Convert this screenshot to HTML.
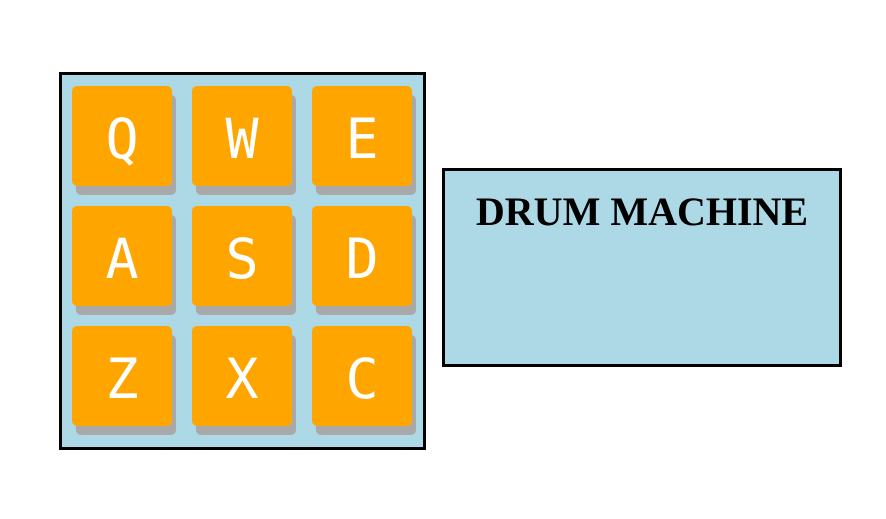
<!DOCTYPE html>
<html><head><meta charset="utf-8">
<style>
html,body{margin:0;padding:0;background:#fff;width:886px;height:519px;overflow:hidden;}
#grid{position:absolute;left:59px;top:72px;width:361px;height:372px;border:3px solid #000;background:#add8e6;}
.pad{position:absolute;width:100px;height:100px;background:#ffa500;border-radius:5px;box-shadow:4px 9px 0 #a9a9a9;color:#fff;font-family:"DejaVu Sans Mono","Liberation Mono",monospace;font-size:55px;line-height:106px;text-align:center;}
#display{position:absolute;left:442px;top:168px;width:394px;height:193px;border:3px solid #000;background:#add8e6;}
#title{position:absolute;left:0;right:0;top:18px;text-align:center;font-family:"Liberation Serif",serif;font-weight:bold;font-size:40px;line-height:46px;color:#000;margin:0;}
</style></head><body>
<div id="grid">
<div class="pad" style="left:10px;top:11px">Q</div>
<div class="pad" style="left:130px;top:11px">W</div>
<div class="pad" style="left:250px;top:11px">E</div>
<div class="pad" style="left:10px;top:131px">A</div>
<div class="pad" style="left:130px;top:131px">S</div>
<div class="pad" style="left:250px;top:131px">D</div>
<div class="pad" style="left:10px;top:251px">Z</div>
<div class="pad" style="left:130px;top:251px">X</div>
<div class="pad" style="left:250px;top:251px">C</div>
</div>
<div id="display">
<h1 id="title">DRUM MACHINE</h1>
</div>
</body></html>
